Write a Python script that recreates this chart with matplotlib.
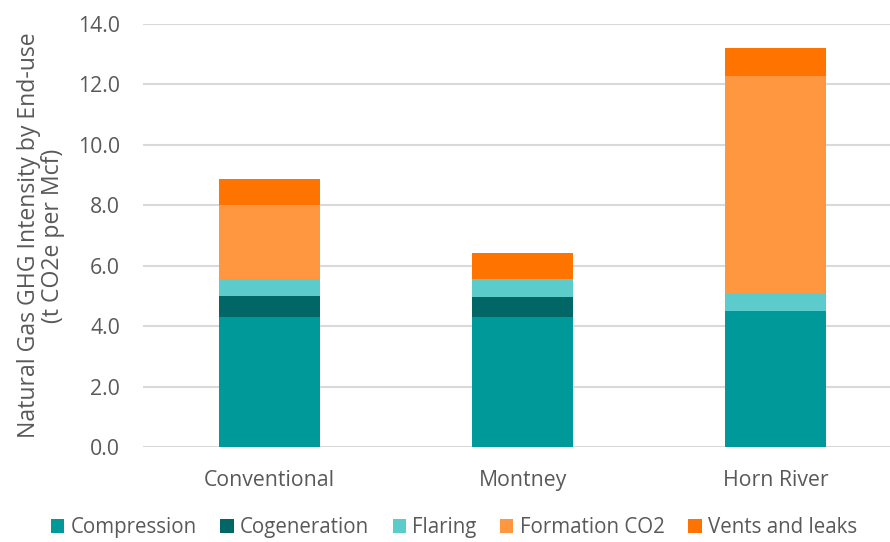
import matplotlib.pyplot as plt
import numpy as np

plt.rcParams['font.family'] = ['Open Sans', 'DejaVu Sans']

regions = ["Conventional", "Montney", "Horn River"]
compression = [4.30, 4.30, 4.50]
cogeneration = [0.69, 0.67, 0.0]
flaring = [0.56, 0.58, 0.61]
formation_co2 = [2.46, 0.0, 7.18]
vents_leaks = [0.86, 0.87, 0.92]

series = [
    ("Compression", compression, "#009999"),
    ("Cogeneration", cogeneration, "#006666"),
    ("Flaring", flaring, "#5BCBCB"),
    ("Formation CO2", formation_co2, "#FF9640"),
    ("Vents and leaks", vents_leaks, "#FF7300"),
]

fig = plt.figure(figsize=(8.9, 5.42), dpi=100)
ax = fig.add_axes([0.1607, 0.1753, 0.853, 0.7804])

x = np.arange(len(regions))
bottom = np.zeros(len(regions))
for name, vals, col in series:
    vals = np.array(vals)
    ax.bar(x, vals, 0.4, bottom=bottom, color=col, label=name, zorder=3)
    bottom += vals

ax.set_xlim(-0.5, 2.5)
ax.set_ylim(0, 14)
ticks = np.arange(0, 14.1, 2)
ax.set_yticks(ticks)
ax.set_yticklabels([f"{v:.1f}" for v in ticks])
ax.set_xticks(x)
ax.set_xticklabels(regions)
ax.yaxis.grid(True, color="#d9d9d9", linewidth=1.5, zorder=0)
for s in ax.spines.values():
    s.set_visible(False)
ax.tick_params(axis="both", length=0, labelsize=15.3, colors="#595959")
ax.tick_params(axis="y", pad=16.5)
ax.tick_params(axis="x", pad=16.5)

ax.set_ylabel("Natural Gas GHG Intensity by End-use\n(t CO2e per Mcf)",
              fontsize=16.6, color="#595959", labelpad=9, linespacing=1.0)

fig.legend(loc="lower center", ncol=5, bbox_to_anchor=(0.51, -0.027), frameon=False,
           fontsize=14.8, labelcolor="#595959", handlelength=0.65, handleheight=0.65,
           handletextpad=0.3, columnspacing=1.15)

fig.savefig("out.png", dpi=100)
